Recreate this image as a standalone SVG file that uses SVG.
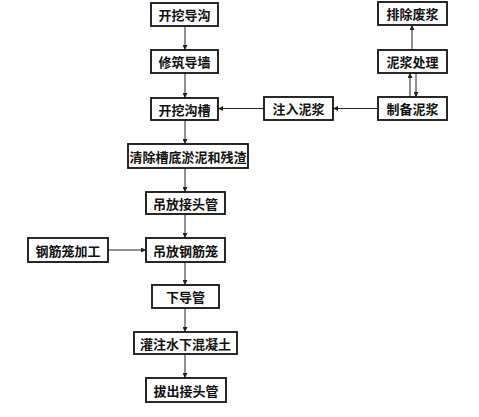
<svg xmlns="http://www.w3.org/2000/svg" width="479" height="417" viewBox="0 0 479 417">
<defs>
<marker id="ah" viewBox="0 0 10 10" refX="10" refY="5" markerWidth="6" markerHeight="5" orient="auto" markerUnits="userSpaceOnUse">
<path d="M0,0 L10,5 L0,10 Z" fill="#222"/>
</marker>
<style>
.box{fill:#fff;stroke:#111;stroke-width:1.8}
.t{font-family:"Noto Sans CJK SC","Noto Sans CJK JP",sans-serif;font-size:13px;font-weight:700;fill:#111;text-anchor:middle;dominant-baseline:central}
.c{stroke:#222;stroke-width:1;fill:none;marker-end:url(#ah)}
</style>
</defs>
<rect width="479" height="417" fill="#fff"/>
<g id="connectors">
<line class="c" x1="185" y1="26" x2="185" y2="50"/>
<line class="c" x1="185" y1="73" x2="185" y2="98"/>
<line class="c" x1="185" y1="120" x2="185" y2="144"/>
<line class="c" x1="185" y1="168" x2="185" y2="192"/>
<line class="c" x1="185" y1="214" x2="185" y2="238"/>
<line class="c" x1="185" y1="262" x2="185" y2="285"/>
<line class="c" x1="185" y1="308" x2="185" y2="332"/>
<line class="c" x1="185" y1="354" x2="185" y2="378"/>
<line class="c" x1="108" y1="250" x2="146" y2="250"/>
<line class="c" x1="378" y1="108.5" x2="333" y2="108.5"/>
<line class="c" x1="264" y1="108.5" x2="218" y2="108.5"/>
<line class="c" x1="410" y1="97" x2="410" y2="73"/>
<line class="c" x1="416" y1="73" x2="416" y2="97"/>
<line class="c" x1="412" y1="50" x2="412" y2="25"/>
</g>
<g id="n1"><rect class="box" x="151" y="3" width="67" height="23"/><text class="t" x="184.5" y="14.5">开挖导沟</text></g>
<g id="n2"><rect class="box" x="151" y="50" width="67" height="23"/><text class="t" x="184.5" y="61.5">修筑导墙</text></g>
<g id="n3"><rect class="box" x="151" y="98" width="67" height="22"/><text class="t" x="184.5" y="109">开挖沟槽</text></g>
<g id="n4"><rect class="box" x="128" y="144" width="120" height="24"/><text class="t" x="188" y="156">清除槽底淤泥和残渣</text></g>
<g id="n5"><rect class="box" x="146" y="192" width="79" height="22"/><text class="t" x="185.5" y="203">吊放接头管</text></g>
<g id="n6"><rect class="box" x="28" y="238" width="80" height="24"/><text class="t" x="68" y="250">钢筋笼加工</text></g>
<g id="n7"><rect class="box" x="146" y="238" width="79" height="24"/><text class="t" x="185.5" y="250">吊放钢筋笼</text></g>
<g id="n8"><rect class="box" x="152" y="285" width="67" height="23"/><text class="t" x="185.5" y="296.5">下导管</text></g>
<g id="n9"><rect class="box" x="134" y="332" width="103" height="22"/><text class="t" x="185.5" y="343">灌注水下混凝土</text></g>
<g id="n10"><rect class="box" x="146" y="378" width="80" height="24"/><text class="t" x="186" y="390">拔出接头管</text></g>
<g id="n11"><rect class="box" x="378" y="2" width="69" height="23"/><text class="t" x="412.5" y="13.5">排除废浆</text></g>
<g id="n12"><rect class="box" x="378" y="50" width="69" height="23"/><text class="t" x="412.5" y="61.5">泥浆处理</text></g>
<g id="n13"><rect class="box" x="378" y="97" width="69" height="23"/><text class="t" x="412.5" y="108.5">制备泥浆</text></g>
<g id="n14"><rect class="box" x="264" y="97" width="69" height="23"/><text class="t" x="298.5" y="108.5">注入泥浆</text></g>
</svg>
